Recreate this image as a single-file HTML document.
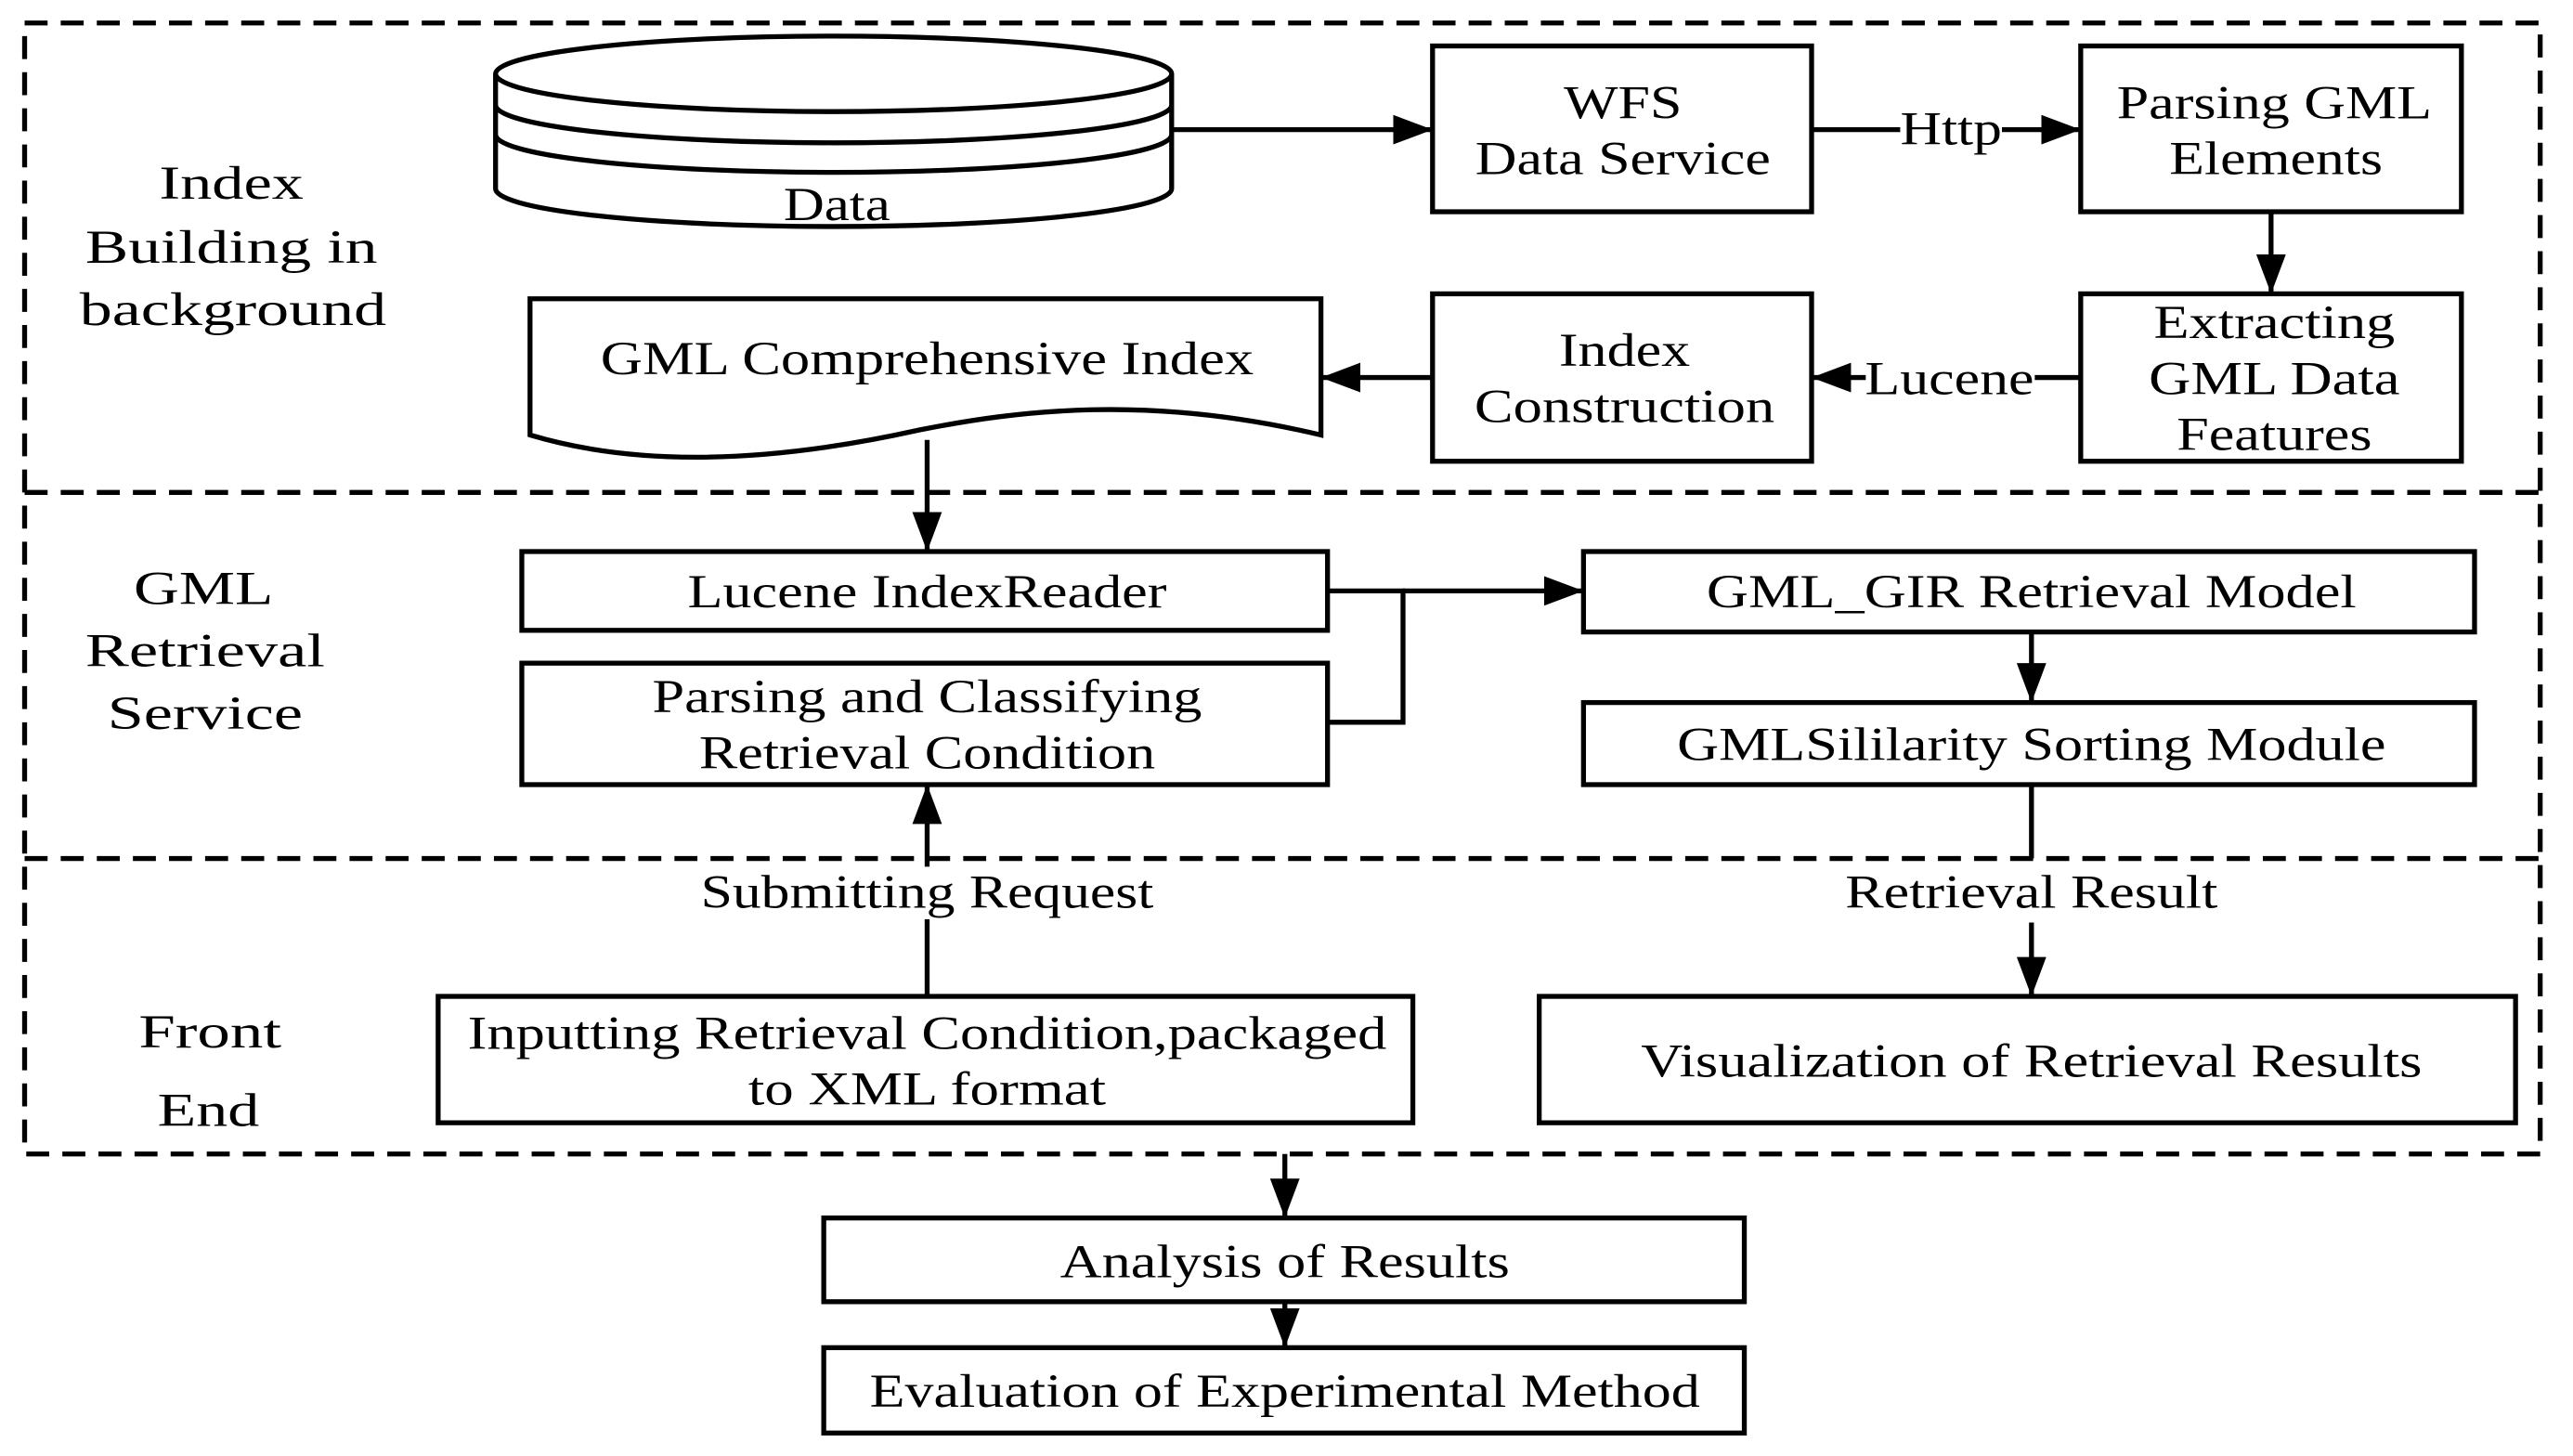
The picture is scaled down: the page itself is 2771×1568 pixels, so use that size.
<!DOCTYPE html>
<html><head><meta charset="utf-8"><style>html,body{margin:0;padding:0;background:#fff;overflow:hidden;width:2771px;height:1568px}svg{display:block}text{font-family:"Liberation Serif",serif;font-size:29px;fill:#000;text-anchor:middle}.b{font-size:33px}</style></head>
<body>
<svg width="2771" height="1568" viewBox="0 0 1568 887" preserveAspectRatio="none" xmlns="http://www.w3.org/2000/svg">
<defs><marker id="b" markerWidth="24" markerHeight="18" refX="24" refY="9" orient="auto" markerUnits="userSpaceOnUse"><path d="M0,0 L24,9 L0,18 z" fill="#000"/></marker></defs>
<g fill="none" stroke="#000" stroke-width="3" stroke-dasharray="14,8">
<rect x="15" y="14" width="1533" height="689"/>
<line x1="15" y1="300" x2="1548" y2="300"/>
<line x1="15" y1="523" x2="1548" y2="523"/>
</g>
<g fill="#fff" stroke="#000" stroke-width="3">
<path d="M302,45 L302,115 A206,23 0 0 0 714,115 L714,45"/>
<path d="M302,64 A206,23 0 0 0 714,64 M302,82 A206,23 0 0 0 714,82" fill="none"/>
<ellipse cx="508" cy="45" rx="206" ry="23"/>
<rect x="873" y="28" width="231" height="101"/>
<rect x="1268" y="28" width="232" height="101"/>
<rect x="1268" y="179" width="232" height="102"/>
<rect x="873" y="179" width="231" height="102"/>
<path d="M323,182 L805,182 L805,265 C700,240 620,250 560,262 C470,282 390,285 323,265 Z"/>
<rect x="318" y="336" width="491" height="48"/>
<rect x="318" y="404" width="491" height="74"/>
<rect x="965" y="336" width="543" height="49"/>
<rect x="965" y="428" width="543" height="50"/>
<rect x="938" y="607" width="595" height="77"/>
<rect x="267" y="607" width="594" height="77"/>
<rect x="502" y="742" width="561" height="51"/>
<rect x="502" y="821" width="561" height="52"/>
</g>
<g stroke="#000" stroke-width="3" fill="none">
<line x1="714" y1="79" x2="873" y2="79" marker-end="url(#b)"/>
<line x1="1104" y1="79" x2="1268" y2="79" marker-end="url(#b)"/>
<line x1="1384" y1="129" x2="1384" y2="179" marker-end="url(#b)"/>
<line x1="1268" y1="230" x2="1104" y2="230" marker-end="url(#b)"/>
<line x1="873" y1="230" x2="805" y2="230" marker-end="url(#b)"/>
<line x1="565" y1="268" x2="565" y2="336" marker-end="url(#b)"/>
<polyline points="809,360 855,360 855,440 809,440"/>
<line x1="855" y1="360" x2="965" y2="360" marker-end="url(#b)"/>
<line x1="1238" y1="385" x2="1238" y2="428" marker-end="url(#b)"/>
<line x1="1238" y1="478" x2="1238" y2="523"/>
<line x1="1238" y1="562" x2="1238" y2="607" marker-end="url(#b)"/>
<line x1="565" y1="607" x2="565" y2="478" marker-end="url(#b)"/>
<line x1="783" y1="703" x2="783" y2="742" marker-end="url(#b)"/>
<line x1="783" y1="793" x2="783" y2="821" marker-end="url(#b)"/>
</g>
<rect x="420" y="528" width="290" height="32" fill="#fff"/>
<rect x="1158" y="66" width="62" height="28" fill="#fff"/>
<rect x="1137" y="216" width="103" height="28" fill="#fff"/>
<g class="b">
<text x="141" y="121" textLength="88" lengthAdjust="spacingAndGlyphs">Index</text>
<text x="141" y="160" textLength="178" lengthAdjust="spacingAndGlyphs">Building in</text>
<text x="142" y="198" textLength="187" lengthAdjust="spacingAndGlyphs">background</text>
<text x="124" y="368" textLength="85" lengthAdjust="spacingAndGlyphs">GML</text>
<text x="125" y="406" textLength="146" lengthAdjust="spacingAndGlyphs">Retrieval</text>
<text x="125" y="444" textLength="119" lengthAdjust="spacingAndGlyphs">Service</text>
<text x="128" y="638" textLength="87" lengthAdjust="spacingAndGlyphs">Front</text>
<text x="127" y="686" textLength="62" lengthAdjust="spacingAndGlyphs">End</text>
</g>
<text x="510" y="134" textLength="65" lengthAdjust="spacingAndGlyphs">Data</text>
<text x="989" y="72" textLength="72" lengthAdjust="spacingAndGlyphs">WFS</text>
<text x="989" y="106" textLength="180" lengthAdjust="spacingAndGlyphs">Data Service</text>
<text x="1189" y="88" textLength="62" lengthAdjust="spacingAndGlyphs">Http</text>
<text x="1386" y="72" textLength="192" lengthAdjust="spacingAndGlyphs">Parsing GML</text>
<text x="1387" y="106" textLength="130" lengthAdjust="spacingAndGlyphs">Elements</text>
<text x="1386" y="206" textLength="147" lengthAdjust="spacingAndGlyphs">Extracting</text>
<text x="1386" y="240" textLength="153" lengthAdjust="spacingAndGlyphs">GML Data</text>
<text x="1386" y="274" textLength="119" lengthAdjust="spacingAndGlyphs">Features</text>
<text x="1188" y="240" textLength="103" lengthAdjust="spacingAndGlyphs">Lucene</text>
<text x="990" y="223" textLength="80" lengthAdjust="spacingAndGlyphs">Index</text>
<text x="990" y="257" textLength="183" lengthAdjust="spacingAndGlyphs">Construction</text>
<text x="565" y="228" textLength="398" lengthAdjust="spacingAndGlyphs">GML Comprehensive Index</text>
<text x="565" y="370" textLength="292" lengthAdjust="spacingAndGlyphs">Lucene IndexReader</text>
<text x="565" y="434" textLength="335" lengthAdjust="spacingAndGlyphs">Parsing and Classifying</text>
<text x="565" y="468" textLength="278" lengthAdjust="spacingAndGlyphs">Retrieval Condition</text>
<text x="1238" y="370" textLength="396" lengthAdjust="spacingAndGlyphs">GML_GIR Retrieval Model</text>
<text x="1238" y="463" textLength="432" lengthAdjust="spacingAndGlyphs">GMLSililarity Sorting Module</text>
<text x="565" y="553" textLength="276" lengthAdjust="spacingAndGlyphs">Submitting Request</text>
<text x="1238" y="553" textLength="227" lengthAdjust="spacingAndGlyphs">Retrieval Result</text>
<text x="565" y="639" textLength="560" lengthAdjust="spacingAndGlyphs">Inputting Retrieval Condition,packaged</text>
<text x="565" y="673" textLength="218" lengthAdjust="spacingAndGlyphs">to XML format</text>
<text x="1238" y="656" textLength="476" lengthAdjust="spacingAndGlyphs">Visualization of Retrieval Results</text>
<text x="783" y="778" textLength="274" lengthAdjust="spacingAndGlyphs">Analysis of Results</text>
<text x="783" y="857" textLength="506" lengthAdjust="spacingAndGlyphs">Evaluation of Experimental Method</text>
</svg>
</body></html>
